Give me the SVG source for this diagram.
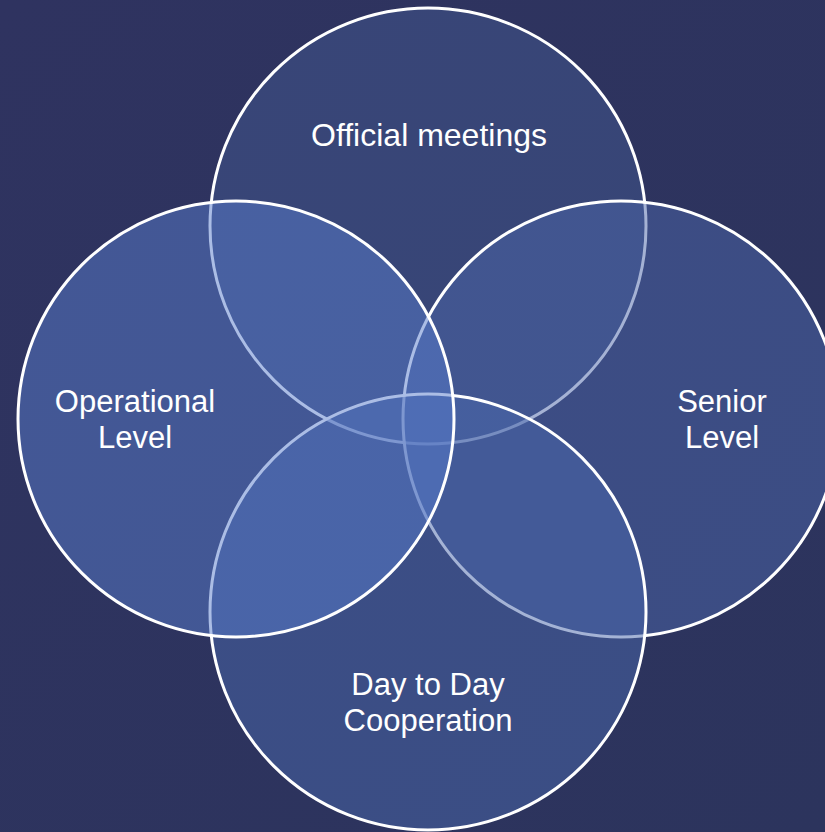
<svg xmlns="http://www.w3.org/2000/svg" width="825" height="832" viewBox="0 0 825 832">
<defs>
<linearGradient id="bg" x1="0" y1="0" x2="1" y2="1">
<stop offset="0" stop-color="#2f3360"/>
<stop offset="1" stop-color="#2c345d"/>
</linearGradient>
</defs>
<style>
.c{stroke:#ffffff;stroke-width:3;fill-opacity:0.5}
.t{font-family:"Liberation Sans",Arial,sans-serif;font-size:31px;fill:#ffffff;text-anchor:middle}
</style>
<rect width="825" height="832" fill="url(#bg)"/>
<g id="connectors"></g>
<g id="official">
<circle class="c" cx="428" cy="226" r="218" fill="#425790"/>
<text class="t" x="429" y="146" style="font-size:32px">Official meetings</text>
</g>
<g id="senior">
<circle class="c" cx="621" cy="419" r="218" fill="#4c65aa"/>
<text class="t" x="722" y="412"><tspan x="722" y="412">Senior</tspan><tspan x="722" y="448">Level</tspan></text>
</g>
<g id="daytoday">
<circle class="c" cx="428" cy="612" r="218" fill="#4a67ac"/>
<text class="t" x="428" y="695"><tspan x="428" y="695">Day to Day</tspan><tspan x="428" y="731">Cooperation</tspan></text>
</g>
<g id="operational">
<circle class="c" cx="236" cy="419" r="218" fill="#587bcc"/>
<text class="t" x="135" y="412"><tspan x="135" y="412">Operational</tspan><tspan x="135" y="448">Level</tspan></text>
</g>
</svg>
